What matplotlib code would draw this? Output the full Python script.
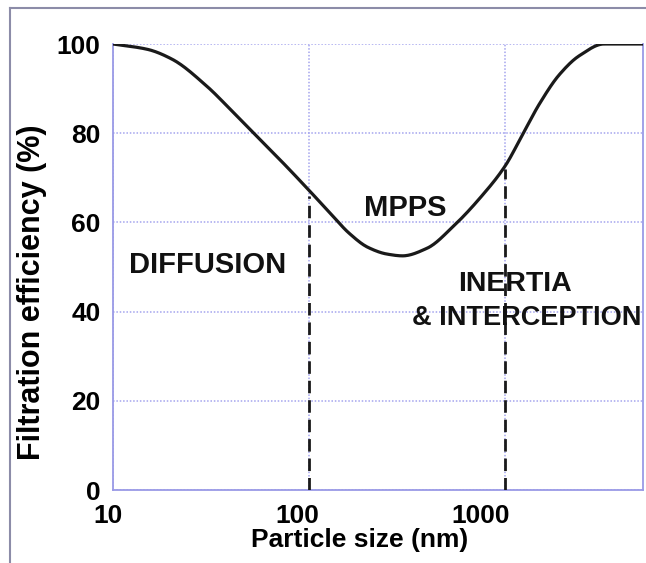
import numpy as np
import matplotlib
matplotlib.use("Agg")
import matplotlib.pyplot as plt
from matplotlib.lines import Line2D
from matplotlib.transforms import ScaledTranslation

# curve
size_nm = [10, 15, 20, 30, 40, 55, 75, 100, 130, 160, 200, 250, 300,
           400, 550, 750, 1000, 1250, 1500, 1900, 2400, 3200, 5060]
efficiency = [100, 98.8, 96.6, 90.6, 85.2, 79.0, 73.0, 67.2, 61.8, 57.6, 54.4,
              52.9, 52.5, 54.2, 59.3, 65.6, 72.6, 80.3, 86.6, 93.2, 97.4, 100, 100]

boundaries = [100, 1000]
boundary_tops = [66, 72]

x_ticks = [10, 100, 1000]
x_tick_labels = ["10", "100", "1000"]
y_ticks = [0, 20, 40, 60, 80, 100]

regions = ["DIFFUSION", "MPPS", "INERTIA", "& INTERCEPTION"]
region_x = [30.5, 309, 1125, 1285]
region_y = [50.4, 63.2, 46.2, 38.6]
region_fs = [21, 21, 20.5, 19.5]


def pchip(x, y, xn):
    '''monotone cubic through the points, no overshoot on the flat ends'''
    x = np.asarray(x, float)
    y = np.asarray(y, float)
    h = np.diff(x)
    d = np.diff(y) / h
    m = np.zeros_like(y)
    m[0], m[-1] = d[0], d[-1]
    for k in range(1, len(x) - 1):
        if d[k-1] * d[k] > 0:
            w1 = 2*h[k] + h[k-1]
            w2 = h[k] + 2*h[k-1]
            m[k] = (w1 + w2) / (w1/d[k-1] + w2/d[k])
    i = np.clip(np.searchsorted(x, xn) - 1, 0, len(x) - 2)
    t = (xn - x[i]) / h[i]
    h00 = 2*t**3 - 3*t**2 + 1
    h10 = t**3 - 2*t**2 + t
    h01 = -2*t**3 + 3*t**2
    h11 = t**3 - t**2
    return h00*y[i] + h10*h[i]*m[i] + h01*y[i+1] + h11*h[i]*m[i+1]


plt.rcParams['font.family'] = ['Liberation Sans', 'DejaVu Sans']
plt.rcParams['font.weight'] = 'bold'

fig = plt.figure(figsize=(6.46, 5.63), dpi=100)
ax = fig.add_axes([113/646, 1-490/563, 530/646, 446/563])

spine_col = '#9a9ae6'
grid_col = '#a4a4ee'

lx = np.log10(size_nm)
fine = np.linspace(lx[0], lx[-1], 500)
ax.plot(10**fine, pchip(lx, efficiency, fine), color='#1a1a1a', lw=2.3,
        solid_capstyle='round', zorder=3)

for b, top in zip(boundaries, boundary_tops):
    ax.plot([b, b], [0, top], color='#1a1a1a', lw=2, ls=(0, (4.5, 2.5)), zorder=3)

ax.set_xscale('log')
ax.set_xlim(10, 5060)
ax.set_ylim(0, 100)
ax.set_xticks(x_ticks)
ax.set_xticklabels(x_tick_labels)
ax.xaxis.set_minor_locator(matplotlib.ticker.NullLocator())
ax.set_yticks(y_ticks)
ax.tick_params(length=0, labelsize=19, pad=9)
ax.tick_params(axis='x', pad=10)

ax.grid(True, color=grid_col, ls=(0, (1, 1.2)), lw=1.1)
ax.set_axisbelow(True)
for side in ['left', 'right', 'bottom']:
    ax.spines[side].set_color(spine_col)
    ax.spines[side].set_linewidth(1.3)
ax.spines['top'].set_visible(False)

# tick labels in the original sit a little left of their grid lines
for lab, dx in zip(ax.get_xticklabels(), [-5, -12, -24]):
    lab.set_transform(lab.get_transform() + ScaledTranslation(dx/100, 0, fig.dpi_scale_trans))

ax.set_xlabel("Particle size (nm)", fontsize=19, fontweight='bold')
ax.set_ylabel("Filtration efficiency (%)", fontsize=22, fontweight='bold')
ax.xaxis.set_label_coords((360-113)/530, -(528-490)/446)
ax.yaxis.set_label_coords(-(113-47)/530, (490-292)/446)

for txt, xv, yv, fs in zip(regions, region_x, region_y, region_fs):
    ax.text(xv, yv, txt, ha='center', va='center', fontsize=fs, fontweight='bold',
            color='#111111', zorder=4)

# outer frame of the picture
frame_col = '#8c8ca8'
fig.add_artist(Line2D([10/646, 1], [1-8/563, 1-8/563], color=frame_col, lw=1.5))
fig.add_artist(Line2D([10/646, 10/646], [0, 1-8/563], color=frame_col, lw=1.5))

fig.savefig("out.png", dpi=100)
